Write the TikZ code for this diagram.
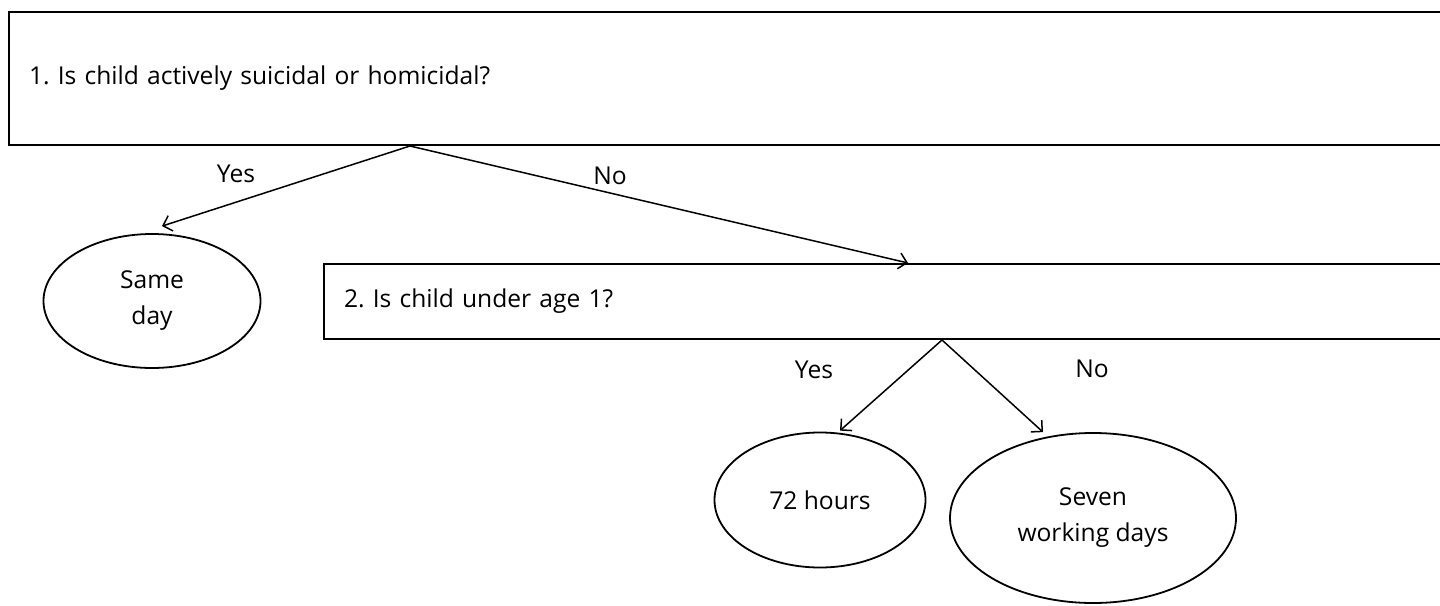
\documentclass[tikz,border=0pt]{standalone}
\usepackage{fontspec}
\setmainfont{Open Sans}
\usetikzlibrary{positioning, arrows.meta, shapes.geometric, calc}
\frenchspacing

\begin{document}
\begin{tikzpicture}[
    x=0.5pt, y=-0.5pt,
    every node/.style={font=\fontsize{12.3}{18}\selectfont},
    question/.style={draw, line width=1pt, anchor=north west, inner xsep=10pt, inner ysep=0pt, align=left, text width=710pt},
    outcome/.style={draw, ellipse, line width=0.9pt, align=center, inner sep=0pt},
    arr/.style={-{Straight Barb[length=4pt, width=8pt]}, line width=0.75pt},
    answer/.style={anchor=base, inner sep=0pt}
]
\useasboundingbox (0,0) rectangle (1440,605);
\clip (0,0) rectangle (1440,605);

% Questions
\node[question, minimum height=66.5pt] (q1) at (8,11) {1. Is child actively suicidal or homicidal?};
\node[question, minimum height=37.5pt] (q2) at (323,263) {2. Is child under age 1?};

% Outcomes
\node[outcome, minimum width=108.5pt, minimum height=67pt] (sameday) at (152,301) {Same\\day};
\node[outcome, minimum width=105.5pt, minimum height=67.5pt] (hrs72) at (820,500) {72 hours};
\node[outcome, minimum width=143pt, minimum height=85pt] (seven) at (1093,518) {Seven\\working days};

% Branch points
\coordinate (fork1) at ($(q1.south west)+(402,0)$);
\coordinate (fork2) at ($(q2.south west)+(619,0)$);

% Arrows
\draw[arr] (fork1) -- ($(sameday.north)+(10,-7)$);
\draw[arr] (fork1) -- ($(q2.north west)+(585,0)$);
\draw[arr] (fork2) -- ($(hrs72.north)+(20,-1)$);
\draw[arr] (fork2) -- ($(seven.north)+(-50,0)$);

% Answers
\node[answer] (yes1) at (236,182) {Yes};
\node[answer] (no1)  at (610,184) {No};
\node[answer] (yes2) at (814,378) {Yes};
\node[answer] (no2)  at (1092,377) {No};
\end{tikzpicture}
\end{document}
